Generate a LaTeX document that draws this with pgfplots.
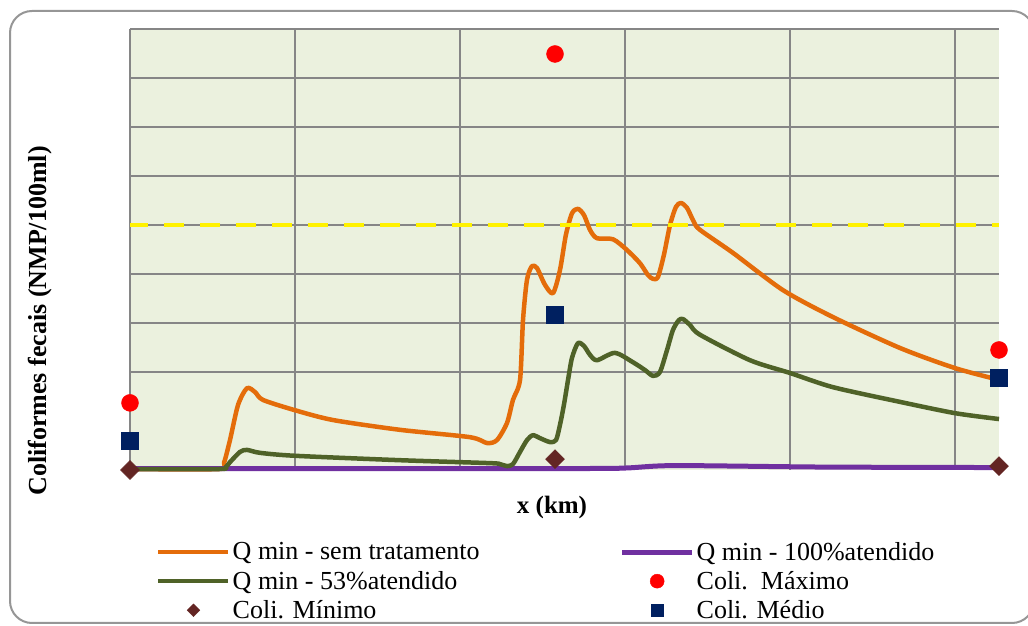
\documentclass[border=0pt]{standalone}
\usepackage{fontspec}
\setmainfont{Liberation Serif}
\usepackage{pgfplots}
\pgfplotsset{compat=1.18}
\definecolor{corange}{RGB}{228,108,10}
\definecolor{cgreen}{RGB}{79,98,40}
\definecolor{cpurple}{RGB}{112,48,160}
\definecolor{cred}{RGB}{255,0,0}
\definecolor{cnavy}{RGB}{0,32,96}
\definecolor{cbrown}{RGB}{99,37,35}
\definecolor{bgcol}{RGB}{235,241,222}
\definecolor{gridgray}{RGB}{134,134,134}
\definecolor{framegray}{RGB}{150,150,150}
\pgfplotsset{
  legend image code/.code={%
    \draw[mark repeat=2,mark phase=2,#1] plot coordinates {(0pt,0pt) (35pt,0pt) (70pt,0pt)};}
}
\begin{document}
\begin{tikzpicture}[x=1pt,y=1pt]
\useasboundingbox (0,0) rectangle (1028,626);
\draw[framegray, line width=2pt, rounded corners=22pt] (10,3) rectangle (1034,615);
\begin{axis}[
  at={(130pt,156pt)}, anchor=south west,
  scale only axis, width=869pt, height=441pt,
  xmin=0, xmax=5.267, ymin=0, ymax=9,
  xtick={0,1,2,3,4,5}, ytick={2,3,4,5,6,7,8,9},
  xticklabels={}, yticklabels={},
  major tick length=0pt,
  grid=major, grid style={draw=gridgray, line width=1.2pt},
  axis line style={draw=none},
  axis background/.style={fill=bgcol},
  clip=false,
  legend columns=2,
  legend cell align=left,
  legend style={draw=none, fill=none,
    font=\fontsize{26}{30}\selectfont,
    at={(0.0265,-0.1545)}, anchor=north west, row sep=5.5pt,
    /tikz/every even column/.append style={column sep=138pt}},
]
% Q min - sem tratamento
\addplot[corange, line width=4.5pt, line join=round, smooth, tension=0.45] coordinates {
(0,0.02) (0.54,0.02) (0.57,0.15) (0.606,0.61) (0.655,1.33) (0.709,1.67) (0.758,1.59)
(0.806,1.43) (1.0,1.22) (1.23,1.02) (1.636,0.82) (2.06,0.67) (2.164,0.55)
(2.224,0.61) (2.285,0.96) (2.321,1.43) (2.364,1.84) (2.382,3.06) (2.406,3.88)
(2.436,4.16) (2.467,4.12) (2.515,3.78) (2.564,3.61) (2.606,4.08) (2.642,4.80)
(2.679,5.24) (2.715,5.33) (2.752,5.20) (2.788,4.90) (2.830,4.73) (2.927,4.71)
(3.012,4.49) (3.091,4.22) (3.139,3.98) (3.170,3.90) (3.2,3.94) (3.236,4.39)
(3.273,5.0) (3.309,5.37) (3.339,5.45) (3.376,5.35) (3.418,5.06) (3.455,4.90)
(3.655,4.43) (3.958,3.67) (4.261,3.12) (4.667,2.49) (5.0,2.08) (5.267,1.84)
};
\addlegendentry{Q min - sem tratamento}
% Q min - 100% atendido
\addplot[cpurple, line width=5pt, line join=round, smooth, tension=0.45] coordinates {
(0,0.03) (2.65,0.03) (3.0,0.04) (3.3,0.09) (4.2,0.06) (5.267,0.05)
};
\addlegendentry{Q min - 100\%atendido}
% Q min - 53% atendido
\addplot[cgreen, line width=4.5pt, line join=round, smooth, tension=0.45] coordinates {
(0,0.02) (0.54,0.02) (0.58,0.06) (0.606,0.16) (0.667,0.37) (0.709,0.41) (0.788,0.35)
(1.0,0.29) (1.636,0.20) (2.182,0.14) (2.242,0.12) (2.285,0.08) (2.321,0.12)
(2.364,0.37) (2.406,0.61) (2.442,0.71) (2.485,0.65) (2.545,0.57) (2.582,0.61)
(2.606,0.92) (2.630,1.33) (2.655,1.84) (2.679,2.29) (2.715,2.59) (2.752,2.53)
(2.788,2.35) (2.830,2.24) (2.939,2.39) (3.048,2.20) (3.121,2.04) (3.170,1.92)
(3.212,2.0) (3.255,2.45) (3.291,2.86) (3.327,3.06) (3.352,3.08) (3.394,2.96)
(3.455,2.76) (3.758,2.24) (4.0,1.98) (4.261,1.69) (4.667,1.39) (5.0,1.16)
(5.267,1.04)
};
\addlegendentry{Q min - 53\%atendido}
% limit line
\addplot[yellow, line width=4pt, dash pattern=on 20pt off 16pt, dash phase=2pt, forget plot]
  coordinates {(0,5) (5.267,5)};
% Coli. Maximo
\addplot[only marks, mark=*, mark size=8.5pt, color=cred, mark options={fill=cred, draw=cred},
  legend image post style={mark size=7pt}] coordinates {
(0,1.37) (2.576,8.49) (5.267,2.45)
};
\addlegendentry{Coli.\ \ Máximo}
% Coli. Minimo
\addplot[only marks, mark=square*, mark size=6.7pt, color=cbrown,
  mark options={rotate=45, fill=cbrown, draw=cbrown},
  legend image post style={mark size=4.5pt}] coordinates {
(0,0.0) (2.576,0.22) (5.267,0.08)
};
\addlegendentry{Coli. Mínimo}
% Coli. Medio
\addplot[only marks, mark=square*, mark size=8.5pt, color=cnavy,
  mark options={fill=cnavy, draw=cnavy},
  legend image post style={mark size=6pt}] coordinates {
(0,0.59) (2.576,3.16) (5.267,1.88)
};
\addlegendentry{Coli. Médio}
\end{axis}
\node[rotate=90, font=\fontsize{26}{30}\selectfont\bfseries] at (40,305) {Coliformes fecais (NMP/100ml)};
\node[font=\fontsize{25}{30}\selectfont\bfseries] at (552,119) {x (km)};
\end{tikzpicture}
\end{document}
